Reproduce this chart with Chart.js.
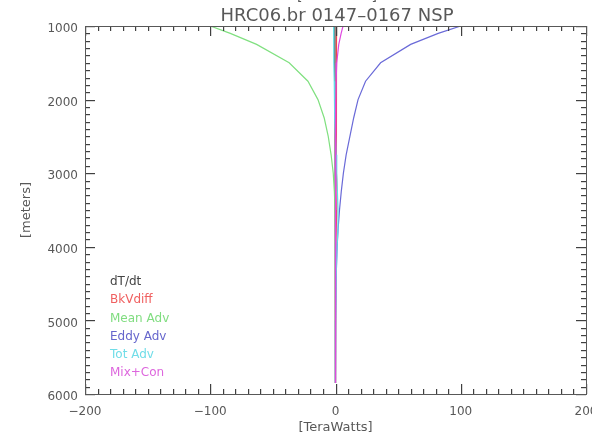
<!DOCTYPE html>
<html>
<head>
<meta charset="utf-8">
<script src="https://cdn.jsdelivr.net/npm/chart.js@4"></script>
<style>
  html, body { margin: 0; padding: 0; background: #fff; }
  canvas { display: block; }
</style>
</head>
<body>
<canvas id="grafica" width="610" height="439"></canvas>
<script>
// depth levels (meters) and heat budget terms (TeraWatts)
const depths = [1000, 1100, 1250, 1500, 1750, 2000, 2250, 2500, 2750, 3000, 3250, 3500, 3750, 4000, 4250, 4500, 5000, 5500, 5850];
const dTdt    = [-0.5, -0.5, -0.5, -0.5, -0.4, -0.4, -0.3, -0.3, -0.3, -0.2, -0.2, -0.2, -0.1, -0.1, -0.1, 0, 0, 0, 0];
const bkVdiff = [0.8, 0.8, 0.7, 0.7, 0.6, 0.6, 0.6, 0.7, 0.8, 1.0, 1.2, 1.0, 0.6, 0.3, 0.2, 0.1, 0, 0, 0];
const meanAdv = [-100, -84, -63, -37, -22, -14, -9, -5.8, -3.5, -1.8, -0.9, -0.4, -0.1, 0, 0, 0, 0, 0, 0];
const eddyAdv = [100, 82, 60, 36, 24, 18, 14.5, 11.5, 8.5, 6.3, 4.6, 3.2, 2.1, 1.3, 0.8, 0.4, 0.1, 0, 0];
const totAdv  = [-1.5, -1.5, -1.4, -1.2, -1, -0.8, -0.5, 0, 0.5, 1, 1.5, 2, 2, 1.2, 0.8, 0.4, 0.1, 0, 0];
const mixCon  = [6, 4.5, 2.6, 1, 0.5, 0.3, 0.2, 0.1, 0.1, 0, 0, 0, 0, 0, 0, 0, 0, 0, 0];

const seriesNames = ['dT/dt', 'BkVdiff', 'Mean Adv', 'Eddy Adv', 'Tot Adv', 'Mix+Con'];
const seriesValues = [dTdt, bkVdiff, meanAdv, eddyAdv, totAdv, mixCon];
const lineColors = ['#333333', '#f04848', '#80e080', '#6a6ad8', '#60e0e8', '#e048e0'];
const textColors = ['#444444', '#f06060', '#80dd80', '#6666cc', '#70dde8', '#dd66dd'];

const xTicks = [-200, -100, 0, 100, 200];
const yTicks = [1000, 2000, 3000, 4000, 5000, 6000];

const gris = '#585858';

// box, inward ticks, titles, legend
const marco = {
  id: 'marco',
  afterDraw(chart) {
    const c = chart.ctx;
    const a = chart.chartArea;
    const sx = chart.scales.x, sy = chart.scales.y;
    const L = Math.round(a.left), R = Math.round(a.right), T = Math.round(a.top), B = Math.round(a.bottom);
    c.save();
    c.fillStyle = '#404040';
    for (let v = -200; v <= 200; v += 10) {
      const x = Math.round(sx.getPixelForValue(v));
      const len = v % 100 === 0 ? 10 : 5;
      c.fillRect(x, B - len, 1.2, len);
      c.fillRect(x, T, 1.2, len);
    }
    for (let v = 1000; v <= 6000; v += 100) {
      const y = Math.round(sy.getPixelForValue(v));
      const len = v % 1000 === 0 ? 10 : 5;
      c.fillRect(L, y, len, 1.2);
      c.fillRect(R - len, y, len, 1.2);
    }
    c.fillStyle = gris;
    c.fillRect(L, T, R - L + 1, 1);
    c.fillRect(L, B, R - L + 1, 1);
    c.fillRect(L, T, 1, B - T + 1);
    c.fillRect(R, T, 1, B - T + 1);

    // clipped right edge like the original picture
    c.fillStyle = '#fff';
    c.fillRect(592, B + 2, 18, 30);

    c.fillStyle = gris;
    c.textAlign = 'center';
    c.textBaseline = 'middle';
    c.font = '18px "DejaVu Sans"';
    c.fillText('HRC06.br 0147\u20130167 NSP', 337, 16);
    c.font = '14px "DejaVu Sans"';
    c.fillText('[TeraWatts]', 337, -4);
    c.font = '13px "DejaVu Sans"';
    c.fillText('[TeraWatts]', (a.left + a.right) / 2, 428);
    c.save();
    c.translate(27, (a.top + a.bottom) / 2);
    c.rotate(-Math.PI / 2);
    c.fillText('[meters]', 0, 0);
    c.restore();

    c.textAlign = 'left';
    c.font = '12px "DejaVu Sans"';
    seriesNames.forEach((n, i) => {
      c.fillStyle = textColors[i];
      c.fillText(n, 110, 282 + i * 18.2);
    });
    c.restore();
  }
};

const ctx = document.getElementById('grafica').getContext('2d');
const myChart = new Chart(ctx, {
  type: 'scatter',
  data: {
    datasets: seriesNames.map((n, i) => ({
      label: n,
      data: depths.map((d, k) => ({ x: seriesValues[i][k], y: d })),
      showLine: true,
      borderColor: lineColors[i],
      backgroundColor: lineColors[i],
      borderWidth: 1.2,
      pointRadius: 0,
      tension: 0,
      order: seriesNames.length - i
    }))
  },
  options: {
    responsive: false,
    devicePixelRatio: 1,
    animation: false,
    layout: { padding: { left: 0, right: 24, top: 26, bottom: 0 } },
    scales: {
      x: {
        type: 'linear',
        min: -200,
        max: 200,
        afterBuildTicks: s => { s.ticks = xTicks.map(v => ({ value: v })); },
        afterFit: s => { s.height = 45; },
        grid: { display: false, drawTicks: false },
        border: { display: false },
        ticks: {
          padding: 11, color: gris, font: { family: 'DejaVu Sans', size: 12 }, maxRotation: 0, autoSkip: false,
          callback: v => String(v).replace('-', '\u2212')
        }
      },
      y: {
        type: 'linear',
        reverse: true,
        min: 1000,
        max: 6000,
        afterBuildTicks: s => { s.ticks = yTicks.map(v => ({ value: v })); },
        afterFit: s => { s.width = 85; },
        grid: { display: false, drawTicks: false },
        border: { display: false },
        ticks: { padding: 7, labelOffset: 3, color: gris, font: { family: 'DejaVu Sans', size: 12 }, callback: v => String(v) }
      }
    },
    plugins: {
      legend: { display: false },
      tooltip: { enabled: false }
    }
  },
  plugins: [marco]
});
</script>
</body>
</html>
